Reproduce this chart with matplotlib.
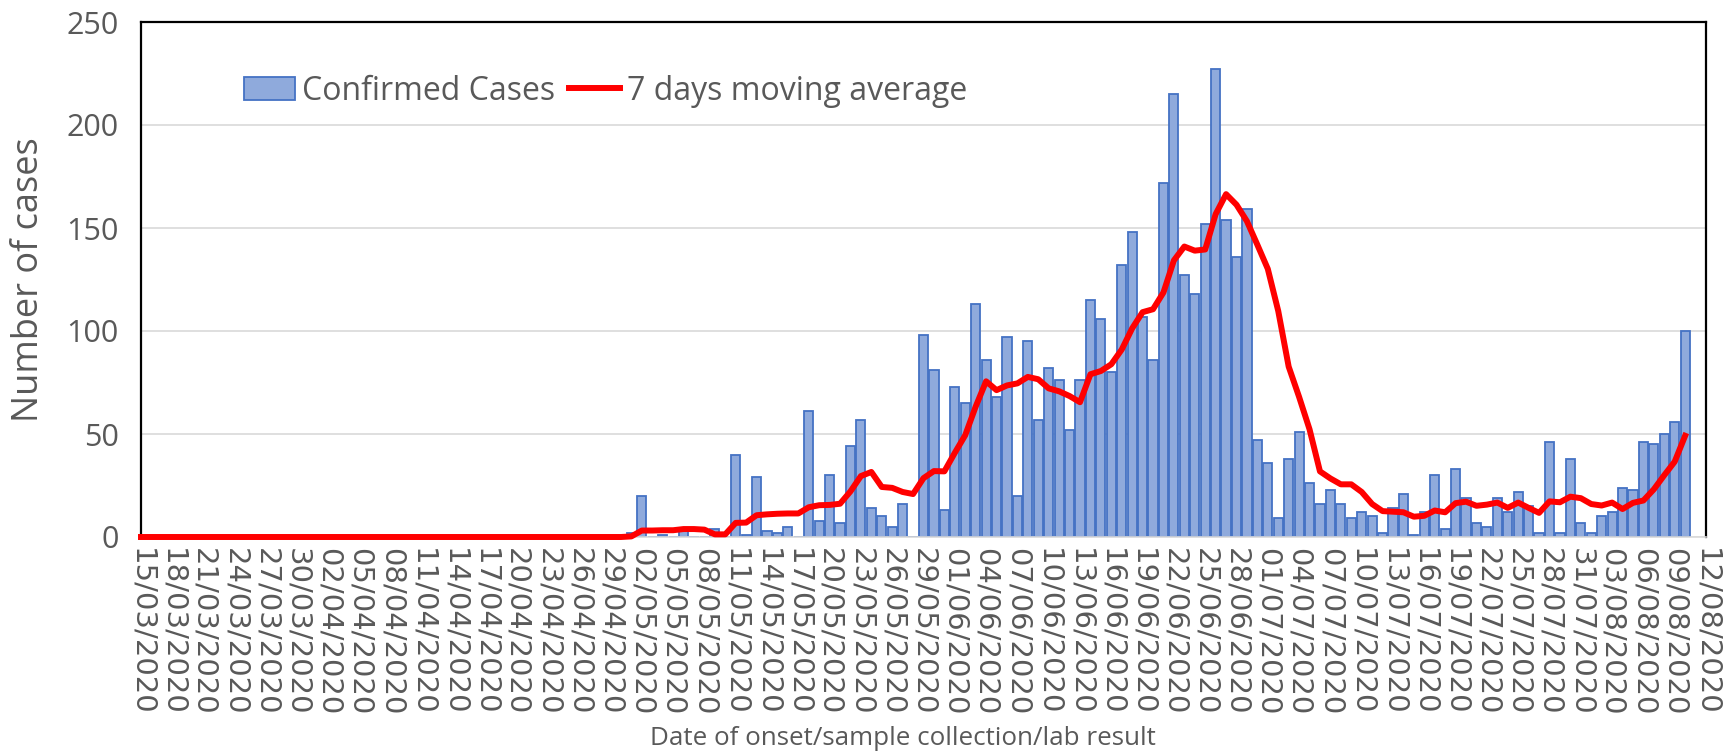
import numpy as np
import pandas as pd
import matplotlib.pyplot as plt
import matplotlib.dates as mdates

plt.rcParams['font.family'] = ['Open Sans', 'DejaVu Sans']

# Daily confirmed cases from 15/03/2020 to 10/08/2020
# (no cases before 01/05, so the first 47 days are zeros)
first_day = '2020-03-15'
last_day = '2020-08-10'
axis_end = '2020-08-12'
cases = [0] * 47 + [
    2, 20, 0, 1, 0, 4, 0, 0, 4, 0,
    40, 1, 29, 3, 2, 5, 0, 61, 8, 30,
    7, 44, 57, 14, 10, 5, 16, 0, 98, 81,
    13, 73, 65, 113, 86, 68, 97, 20, 95, 57,
    82, 76, 52, 76, 115, 106, 80, 132, 148, 107,
    86, 172, 215, 127, 118, 152, 227, 154, 136, 159,
    47, 36, 9, 38, 51, 26, 16, 23, 16, 9,
    12, 10, 2, 14, 21, 1, 12, 30, 4, 33,
    19, 7, 5, 19, 12, 22, 15, 2, 46, 2,
    38, 7, 2, 10, 12, 24, 23, 46, 45, 50,
    56, 100,
]

df = pd.DataFrame({'date': pd.date_range(first_day, last_day), 'cases': cases})
# trailing 7 day mean, as in the legend
df['ma7'] = df['cases'].rolling(7, min_periods=1).mean()

grey = '#595959'

fig = plt.figure(figsize=(17.23, 7.54), dpi=100)
ax = fig.add_axes([141 / 1723, 1 - 537 / 754, (1706 - 141) / 1723, (537 - 22) / 754])

bars = ax.bar(df['date'], df['cases'], width=0.88, color='#8faadc', edgecolor='#4472c4',
              linewidth=1.3, label='Confirmed Cases', zorder=2)
line, = ax.plot(df['date'], df['ma7'], color='#ff0000', linewidth=4.3,
                label='7 days moving average', zorder=3, clip_on=False)

ax.set_ylim(0, 250)
ax.set_yticks(np.arange(0, 251, 50))
ax.set_xlim(pd.Timestamp(first_day), pd.Timestamp(axis_end))
ax.set_xticks(pd.date_range(first_day, axis_end, freq='3D'))
ax.xaxis.set_major_formatter(mdates.DateFormatter('%d/%m/%Y'))

ax.grid(axis='y', color='#d9d9d9', linewidth=1.2, zorder=0)
ax.set_axisbelow(True)
for s in ['left', 'top', 'right']:
    ax.spines[s].set_color('black')
    ax.spines[s].set_linewidth(1.6)
ax.spines['bottom'].set_color('#d9d9d9')
ax.spines['bottom'].set_linewidth(1.2)

ax.tick_params(axis='y', length=0, pad=16, labelsize=22, labelcolor=grey)
ax.tick_params(axis='x', length=0, pad=8, labelsize=21, labelcolor=grey)
for lab in ax.get_xticklabels():
    lab.set_rotation(-90)
    lab.set_ha('center')
    lab.set_va('top')
    lab.set_family('DejaVu Sans')

ax.set_ylabel('Number of cases', fontsize=26, color=grey, labelpad=14)
ax.set_xlabel('Date of onset/sample collection/lab result', fontsize=18.7, color=grey)
ax.xaxis.set_label_coords(0.4866, -0.367)

ax.legend([bars, line], ['Confirmed Cases', '7 days moving average'],
          loc='center left', bbox_to_anchor=(0.066, 0.866), ncol=2, frameon=False,
          fontsize=23, labelcolor=grey, borderpad=0, borderaxespad=0,
          handlelength=1.6, handleheight=0.7, handletextpad=0.2, columnspacing=0.45)

fig.savefig('out.png', dpi=100)
